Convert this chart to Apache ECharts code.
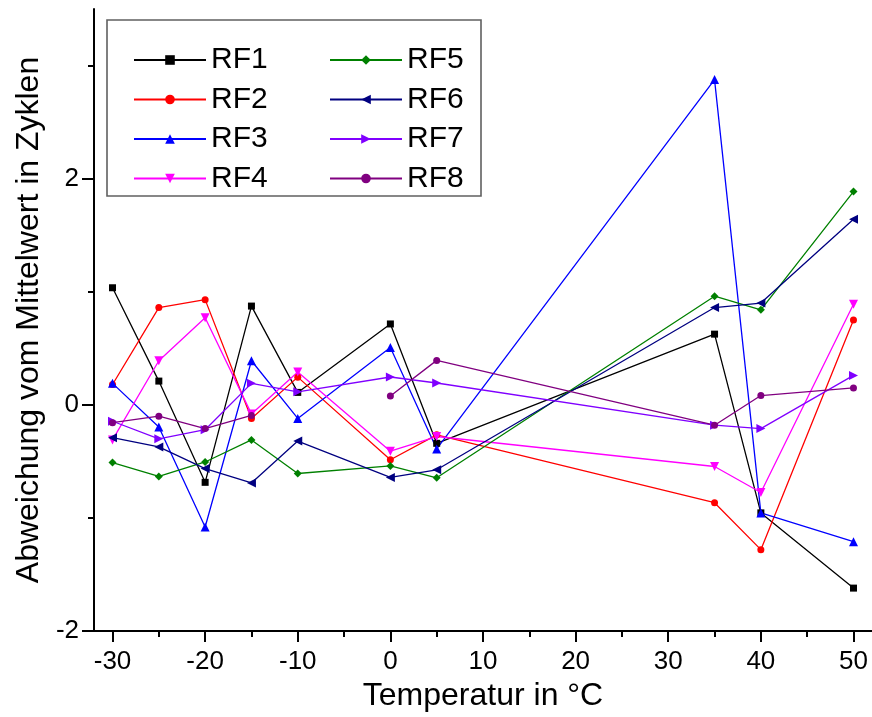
<!DOCTYPE html>
<html>
<head>
<meta charset="utf-8">
<script src="https://cdn.jsdelivr.net/npm/echarts@6/dist/echarts.min.js"></script>
<style>
  html, body { margin: 0; padding: 0; background: #fff; }
  #chart { width: 872px; height: 717px; }
</style>
</head>
<body>
<div id="chart"></div>
<script>
// Measurement temperatures (°C)
const temperatures = [-30, -25, -20, -15, -10, 0, 5, 35, 40, 50];

// Deviation from the mean, in cycles, per sensor
const rf1 = [1.035, 0.21, -0.685, 0.873, 0.11, 0.715, -0.34, 0.625, -0.955, -1.62];
const rf2 = [0.18, 0.86, 0.93, -0.12, 0.245, -0.485, -0.265, -0.865, -1.28, 0.75];
const rf3 = [0.19, -0.195, -1.08, 0.39, -0.12, 0.507, -0.39, 2.875, -0.955, -1.21];
const rf4 = [-0.31, 0.39, 0.77, -0.08, 0.29, -0.41, -0.28, -0.545, -0.775, 0.89];
const rf5 = [-0.51, -0.633, -0.505, -0.31, -0.607, -0.54, -0.645, 0.96, 0.84, 1.885];
const rf6 = [-0.29, -0.372, -0.563, -0.69, -0.32, -0.642, -0.574, 0.86, 0.9, 1.64];
const rf7 = [-0.145, -0.3, -0.22, 0.19, 0.115, 0.246, 0.193, -0.18, -0.21, 0.26];
const rf8 = [-0.158, -0.1, -0.21, -0.094, null, 0.079, 0.393, -0.18, 0.082, 0.15];

const seriesNames = ['RF1', 'RF2', 'RF3', 'RF4', 'RF5', 'RF6', 'RF7', 'RF8'];
const seriesValues = [rf1, rf2, rf3, rf4, rf5, rf6, rf7, rf8];

// Tick positions
const xMajorTicks = [-30, -20, -10, 0, 10, 20, 30, 40, 50];
const xMinorTicks = [-25, -15, -5, 5, 15, 25, 35, 45];
const yMinorTicks = [-1, 1, 3];

const colors = ['#000000', '#ff0000', '#0000ff', '#ff00ff', '#008000', '#000080', '#8000ff', '#800080'];
const symbols = ['rect', 'circle', 'triangle', 'triangle', 'diamond', 'triangle', 'triangle', 'circle'];
const rotations = [0, 0, 0, 180, 0, 90, -90, 0];
const sizes = [7, 7, 9, 9, 8, 9, 9, 7];

const FONT = 'Liberation Sans, Arial, sans-serif';

const series = seriesNames.map((name, k) => ({
  name,
  type: 'line',
  xAxisIndex: 0,
  yAxisIndex: 0,
  data: temperatures.map((t, i) => [t, seriesValues[k][i] === null ? '-' : seriesValues[k][i]]),
  connectNulls: false,
  symbol: symbols[k],
  symbolRotate: rotations[k],
  symbolSize: sizes[k],
  showAllSymbol: true,
  animation: false,
  lineStyle: { color: colors[k], width: 1.3 },
  itemStyle: { color: colors[k] },
  emphasis: { disabled: true }
}));

const legendCommon = {
  orient: 'vertical',
  itemWidth: 72,
  itemHeight: 12,
  itemGap: 9.5,
  textStyle: { fontFamily: FONT, fontSize: 30, color: '#000', lineHeight: 30 },
  selectedMode: false,
  top: 40
};

const chart = echarts.init(document.getElementById('chart'), null, { renderer: 'canvas' });
chart.setOption({
  backgroundColor: '#fff',
  animation: false,
  grid: { left: 94, right: 0, top: 8.9, bottom: 82, containLabel: false },
  xAxis: [
    {
      type: 'value', min: -32, max: 52,
      name: 'Temperatur in °C', nameLocation: 'middle', nameGap: 48,
      nameTextStyle: { fontFamily: FONT, fontSize: 32, color: '#000' },
      axisLine: { show: true, onZero: false, lineStyle: { color: '#000', width: 2 } },
      axisTick: { show: true, customValues: xMajorTicks, length: 11, lineStyle: { color: '#000', width: 2 } },
      axisLabel: { show: true, customValues: xMajorTicks, margin: 18, fontFamily: FONT, fontSize: 26, color: '#000' },
      splitLine: { show: false }
    },
    {
      type: 'value', min: -32, max: 52, position: 'bottom',
      axisLine: { show: false, onZero: false },
      axisTick: { show: true, customValues: xMinorTicks, length: 6, lineStyle: { color: '#000', width: 2 } },
      axisLabel: { show: false },
      splitLine: { show: false }
    }
  ],
  yAxis: [
    {
      type: 'value', min: -2, max: 3.5, interval: 2,
      name: 'Abweichung vom Mittelwert in Zyklen', nameLocation: 'middle', nameGap: 42,
      nameTextStyle: { fontFamily: FONT, fontSize: 32, color: '#000' },
      axisLine: { show: true, onZero: false, lineStyle: { color: '#000', width: 2 } },
      axisTick: { show: true, length: 12, lineStyle: { color: '#000', width: 2 } },
      axisLabel: { show: true, margin: 15, fontFamily: FONT, fontSize: 26, color: '#000', showMaxLabel: false },
      splitLine: { show: false }
    },
    {
      type: 'value', min: -2, max: 3.5, position: 'left',
      axisLine: { show: false, onZero: false },
      axisTick: { show: true, customValues: yMinorTicks, length: 6, lineStyle: { color: '#000', width: 2 } },
      axisLabel: { show: false },
      splitLine: { show: false }
    }
  ],
  legend: [
    Object.assign({}, legendCommon, { left: 128, data: seriesNames.slice(0, 4) }),
    Object.assign({}, legendCommon, { left: 324, data: seriesNames.slice(4) })
  ],
  graphic: [
    {
      type: 'rect',
      shape: { x: 107, y: 20, width: 374, height: 176 },
      style: { fill: 'none', stroke: '#606060', lineWidth: 1.6 },
      z: 100
    }
  ],
  series
});
</script>
</body>
</html>
